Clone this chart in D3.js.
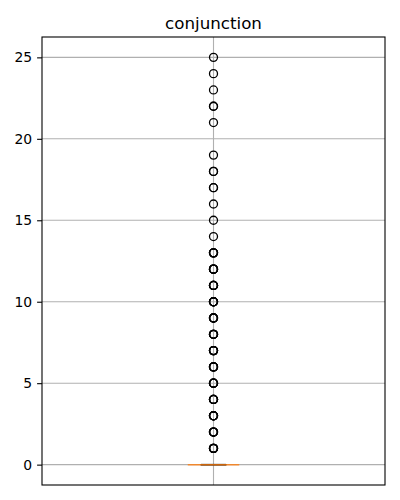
<!DOCTYPE html>
<html><head><meta charset="utf-8">
<script src="https://cdn.jsdelivr.net/npm/d3@7"></script>
<style>body{margin:0;background:#fff}svg{display:block}</style>
</head><body>
<script>
const title = "conjunction";
const stats = {q1: 0, median: 0, q3: 0, whiskerLow: 0, whiskerHigh: 0};
const outlierValues = [1,2,3,4,5,6,7,8,9,10,11,12,13,14,15,16,17,18,19,21,22,23,24,25];
const outlierCounts = [5,5,5,5,5,5,5,5,5,5,5,5,4,1,1,1,2,2,1,1,2,1,1,1];
const yTicks = [0,5,10,15,20,25];

const W = 400, H = 500;
const m = {left: 42, right: 15, top: 37, bottom: 15};
const svg = d3.select("body").append("svg").attr("width", W).attr("height", H);
const pw = W - m.left - m.right, ph = H - m.top - m.bottom;
const x = d3.scaleLinear().domain([0.5, 1.5]).range([m.left, m.left + pw]);
const y = d3.scaleLinear().domain([-1.25, 26.25]).range([m.top + ph, m.top]);

const g = svg.append("g");
g.selectAll(".hg").data(yTicks).join("line")
  .attr("x1", m.left).attr("x2", m.left + pw)
  .attr("y1", d => y(d)).attr("y2", d => y(d))
  .attr("stroke", "#b0b0b0").attr("stroke-width", 1.1);
g.append("line").attr("x1", x(1)).attr("x2", x(1)).attr("y1", m.top).attr("y2", m.top + ph)
  .attr("stroke", "#b0b0b0").attr("stroke-width", 1.1);

const bw = 0.15;
g.append("rect").attr("x", x(1 - bw/2)).attr("width", x(1 + bw/2) - x(1 - bw/2))
  .attr("y", y(stats.q3)).attr("height", Math.max(0, y(stats.q1) - y(stats.q3)))
  .attr("fill", "none").attr("stroke", "#000").attr("stroke-width", 1.4);
[stats.whiskerLow, stats.whiskerHigh].forEach(v => {
  g.append("line").attr("x1", x(1 - bw/4)).attr("x2", x(1 + bw/4))
    .attr("y1", y(v)).attr("y2", y(v)).attr("stroke", "#000").attr("stroke-width", 1.4);
});
g.append("line").attr("x1", x(1 - bw/2)).attr("x2", x(1 + bw/2))
  .attr("y1", y(stats.median)).attr("y2", y(stats.median))
  .attr("stroke", "#ff7f0e").attr("stroke-width", 1.5).attr("opacity", 0.8);

const pts = [];
outlierValues.forEach((v, i) => { for (let k = 0; k < outlierCounts[i]; k++) pts.push(v); });
g.selectAll(".o").data(pts).join("circle")
  .attr("cx", x(1)).attr("cy", d => y(d)).attr("r", 4)
  .attr("fill", "none").attr("stroke", "#000").attr("stroke-width", 1.3);

g.append("rect").attr("x", m.left).attr("y", m.top).attr("width", pw).attr("height", ph)
  .attr("fill", "none").attr("stroke", "#000").attr("stroke-width", 1.1);

const ya = svg.append("g").attr("transform", `translate(${m.left},0)`)
  .call(d3.axisLeft(y).tickValues(yTicks).tickSize(4.9).tickPadding(4.9));
ya.select(".domain").remove();
ya.selectAll("text").attr("font-family", "DejaVu Sans").attr("font-size", 13.9).attr("fill", "#000");
ya.selectAll("line").attr("stroke", "#000").attr("stroke-width", 1.1);

svg.append("text").attr("x", m.left + pw/2).attr("y", 29).attr("text-anchor", "middle")
  .attr("font-family", "DejaVu Sans").attr("font-size", 16.7).text(title);
</script>
</body></html>
